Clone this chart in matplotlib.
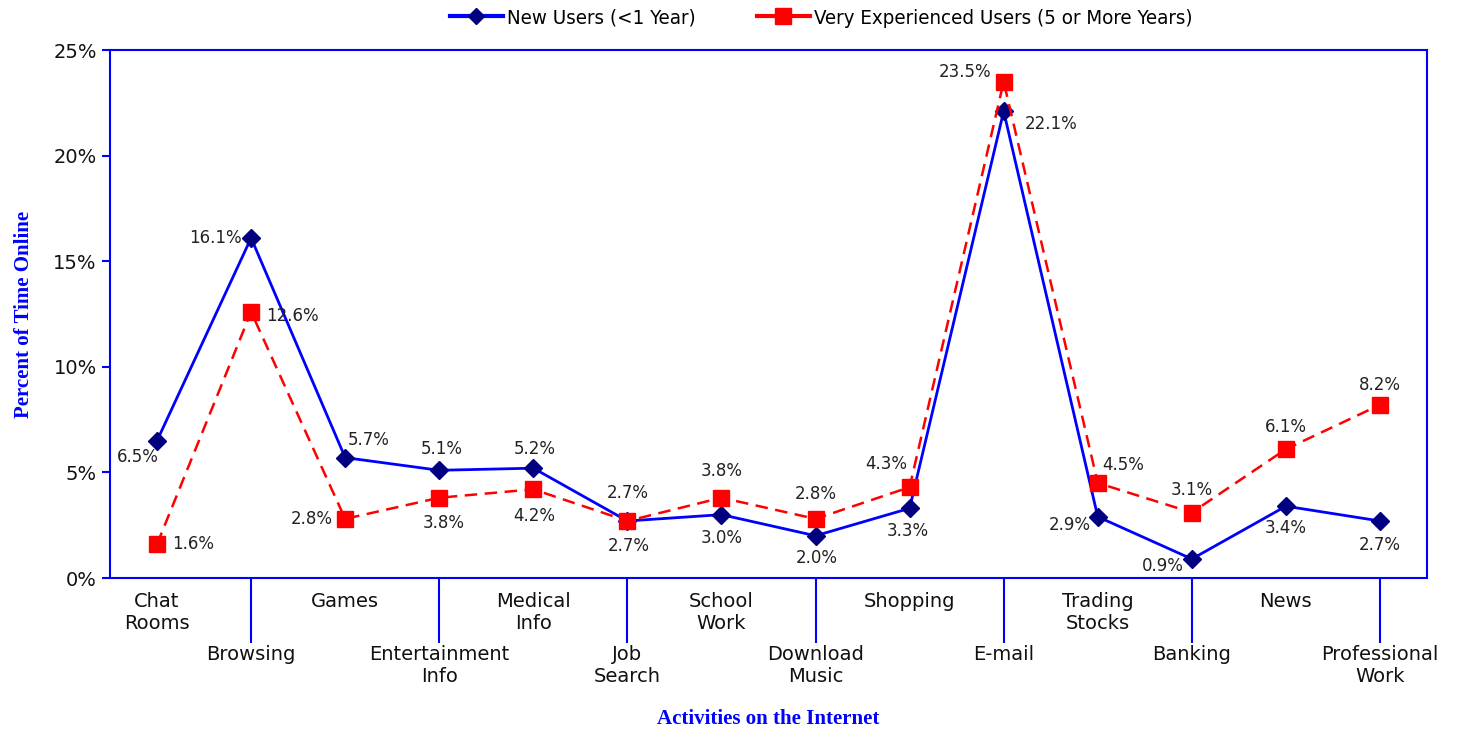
import numpy as np
import matplotlib.pyplot as plt
from matplotlib.ticker import PercentFormatter
from matplotlib.lines import Line2D

categories = ['Chat\nRooms', 'Browsing', 'Games', 'Entertainment\nInfo', 'Medical\nInfo',
              'Job\nSearch', 'School\nWork', 'Download\nMusic', 'Shopping', 'E-mail',
              'Trading\nStocks', 'Banking', 'News', 'Professional\nWork']
new_users = [6.5, 16.1, 5.7, 5.1, 5.2, 2.7, 3.0, 2.0, 3.3, 22.1, 2.9, 0.9, 3.4, 2.7]
exp_users = [1.6, 12.6, 2.8, 3.8, 4.2, 2.7, 3.8, 2.8, 4.3, 23.5, 4.5, 3.1, 6.1, 8.2]

# label offsets in points (dx, dy) for each data label
new_offsets = [(-14, -12), (-26, 0), (17, 13), (2, 15), (1, 14), (1, -18), (0, -17), (1, -16),
               (-1, -16), (34, -9), (-20, -6), (-21, -5), (0, -16), (0, -17)]
exp_offsets = [(26, 0), (30, -3), (-24, 0), (3, -18), (1, -19), (0, 20), (0, 19), (0, 18),
               (-17, 17), (-28, 7), (18, 13), (0, 16), (0, 16), (0, 14)]

blue = '#0000FF'
navy = '#000080'
red = '#FF0000'

fig = plt.figure(figsize=(14.59, 7.29), dpi=100)
ax = fig.add_axes([110 / 1459, 151 / 729, 1317 / 1459, 528 / 729])

x = np.arange(len(categories)) + 0.5
ax.plot(x, new_users, color=blue, lw=2, marker='D', markersize=9,
        markerfacecolor=navy, markeredgecolor=navy, zorder=3)
ax.plot(x, exp_users, color=red, lw=1.8, ls=(0, (5, 3)), marker='s', markersize=12,
        markerfacecolor=red, markeredgecolor=red, zorder=4)

for xi, v, (dx, dy) in zip(x, new_users, new_offsets):
    ax.annotate(f'{v:.1f}%', (xi, v), xytext=(dx, dy), textcoords='offset points',
                ha='center', va='center', fontsize=12, color='#222222')
for xi, v, (dx, dy) in zip(x, exp_users, exp_offsets):
    ax.annotate(f'{v:.1f}%', (xi, v), xytext=(dx, dy), textcoords='offset points',
                ha='center', va='center', fontsize=12, color='#222222')

ax.set_xlim(0, 14)
ax.set_ylim(0, 25)
ax.set_yticks([0, 5, 10, 15, 20, 25])
ax.yaxis.set_major_formatter(PercentFormatter(decimals=0))
ax.tick_params(axis='y', colors=blue, labelcolor='#111111', labelsize=14,
               length=6, width=1.5, direction='out')

# staggered category labels: upper row as minor ticks, lower row as major ticks with long lines
ax.set_xticks(x[1::2])
ax.set_xticklabels(categories[1::2])
ax.set_xticks(x[0::2], minor=True)
ax.set_xticklabels(categories[0::2], minor=True)
ax.tick_params(axis='x', which='major', colors=blue, labelcolor='#111111', labelsize=14,
               length=47, width=1.5, pad=1)
ax.tick_params(axis='x', which='minor', length=0, labelcolor='#111111', labelsize=14, pad=10)

for s in ax.spines.values():
    s.set_color(blue)
    s.set_linewidth(1.5)

ax.set_xlabel('Activities on the Internet', family='Liberation Serif', fontweight='bold',
              fontsize=15, color=blue, labelpad=17)
ax.set_ylabel('Percent of Time Online', family='Liberation Serif', fontweight='bold',
              fontsize=15, color=blue, labelpad=14)

handles = [Line2D([], [], color=blue, lw=3, marker='D', markersize=8,
                  markerfacecolor=navy, markeredgecolor=navy),
           Line2D([], [], color=red, lw=3, marker='s', markersize=11,
                  markerfacecolor=red, markeredgecolor=red)]
fig.legend(handles, ['New Users (<1 Year)', 'Very Experienced Users (5 or More Years)'],
           loc='center', bbox_to_anchor=(821 / 1459, 1 - 18 / 729), ncol=2, frameon=False,
           prop={'family': 'DejaVu Sans', 'stretch': 'condensed', 'size': 14.7},
           handlelength=2.6, columnspacing=3.0, handletextpad=0.2)

fig.savefig('out.png', dpi=100)
